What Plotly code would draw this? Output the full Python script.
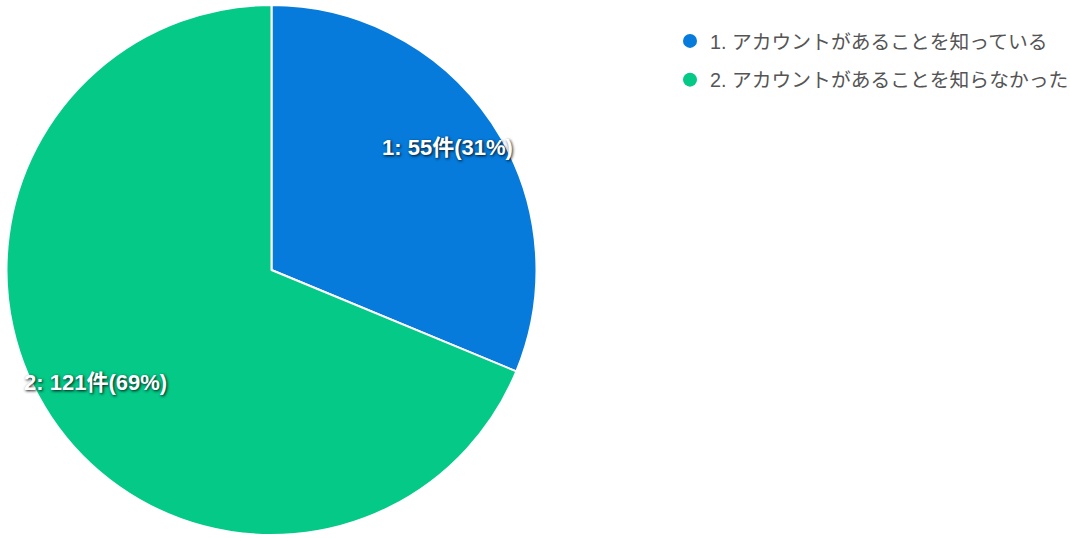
import math
import plotly.graph_objects as go

labels = ["1. アカウントがあることを知っている", "2. アカウントがあることを知らなかった"]
values = [55, 121]
percents = ["31%", "69%"]
colors = ["#067BDB", "#04C987"]
slice_text = [f"{i+1}: {v}件({p})" for i, (v, p) in enumerate(zip(values, percents))]

font_main = "Liberation Sans, Arial, Noto Sans CJK JP"
W, H = 1070, 538
dom = dict(x=[6/W, 537/W], y=[3/H, 533/H])

fig = go.Figure()
fig.add_trace(go.Pie(
    labels=labels, values=values, textinfo="none",
    sort=False, direction="clockwise", rotation=0,
    marker=dict(colors=colors, line=dict(color="white", width=2)),
    showlegend=False, hoverinfo="label+value+percent", domain=dom,
))
for i, (lab, col) in enumerate(zip(labels, colors)):
    fig.add_trace(go.Scatter(x=[None], y=[None], mode="markers", name=lab,
                             marker=dict(color=col, size=14, symbol="circle"),
                             legendgroup=f"g{i}", showlegend=True))

# slice labels at the mid-angle of each slice, derived from the values
cx = (dom["x"][0] + dom["x"][1]) / 2 * W
cy = (1 - (dom["y"][0] + dom["y"][1]) / 2) * H
R = min((dom["x"][1] - dom["x"][0]) * W, (dom["y"][1] - dom["y"][0]) * H) / 2
total = sum(values)
cum = 0
annotations = []
for v, t in zip(values, slice_text):
    mid = (cum + v / 2) / total * 2 * math.pi
    cum += v
    d = 0.8 * R
    px = cx + d * math.sin(mid)
    py = cy - d * math.cos(mid)
    annotations.append(dict(
        x=px / W, y=1 - py / H, xref="paper", yref="paper", text=f"<b>{t}</b>",
        showarrow=False, xanchor="center", yanchor="middle", yshift=5,
        font=dict(family=font_main, size=22, color="white",
                  shadow="1px 1px 3px rgba(0,0,0,0.9)"),
    ))

fig.update_layout(
    width=W, height=H, margin=dict(l=0, r=0, t=0, b=0, autoexpand=False),
    paper_bgcolor="white", plot_bgcolor="white",
    xaxis=dict(visible=False), yaxis=dict(visible=False),
    annotations=annotations,
    legend=dict(x=670/W, y=0.96, xanchor="left", yanchor="top",
                font=dict(family=font_main, size=19.8, color="#555555"),
                tracegroupgap=10, itemwidth=30, bgcolor="rgba(0,0,0,0)"),
)
fig.write_html("out.html", config={"displayModeBar": False},
               post_script="document.body.style.margin='0';")
